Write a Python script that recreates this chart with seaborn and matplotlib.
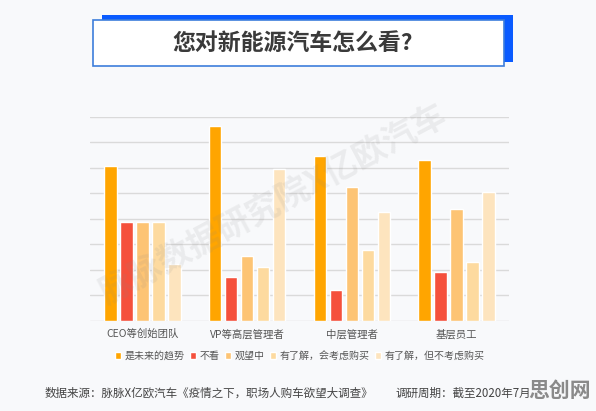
import pandas as pd
import seaborn as sns
import matplotlib.pyplot as plt
from matplotlib.patches import Rectangle

# data (percent of respondents, grid step = 5%)
groups = ['CEO等创始团队', 'VP等高层管理者', '中层管理者', '基层员工']
answers = ['是未来的趋势', '不看', '观望中', '有了解，会考虑购买', '有了解，但不考虑购买']
trend = [30.3, 38.2, 32.3, 31.5]
no_look = [19.3, 8.6, 6.0, 9.5]
waiting = [19.3, 12.7, 26.3, 21.9]
will_buy = [19.3, 10.6, 13.8, 11.5]
wont_buy = [11.2, 29.8, 21.3, 25.2]
colors = ['#FFA500', '#F5503C', '#FDC474', '#FDDA9F', '#FDE4BE']

rows = []
for ans, vals in zip(answers, [trend, no_look, waiting, will_buy, wont_buy]):
    for g, v in zip(groups, vals):
        rows.append({'group': g, 'answer': ans, 'value': v})
df = pd.DataFrame(rows)

sns.set_theme(style='white')
plt.rcParams['font.family'] = ['Noto Sans CJK SC', 'DejaVu Sans']
bg = '#F8F9FB'

fig = plt.figure(figsize=(5.96, 4.11), dpi=100, facecolor=bg)
ax = fig.add_axes([0.151, 0.2197, 0.703, 0.4964])
ax.set_facecolor(bg)

sns.barplot(data=df, x='group', y='value', hue='answer', order=groups,
            hue_order=answers, palette=colors, width=0.765, gap=0.22,
            saturation=1, ax=ax, zorder=2)

ax.set_ylim(0, 40)
ax.set_xlim(-0.5, 3.5)
ax.set_yticks(range(0, 41, 5))
ax.yaxis.grid(True, color='#DADADA', linewidth=1, zorder=0)
ax.set_axisbelow(True)
ax.set_yticklabels([])
ax.tick_params(axis='both', length=0)
ax.tick_params(axis='x', labelsize=7.5, labelcolor='#555555', pad=6)
ax.set_xlabel('')
ax.set_ylabel('')
sns.despine(ax=ax, left=True, bottom=True, top=True, right=True)

sns.move_legend(ax, 'center', bbox_to_anchor=(0.501, -0.173), ncol=5,
                frameon=False, title=None, fontsize=7.2, handlelength=0.6,
                handleheight=0.6, handletextpad=0.4, columnspacing=0.5,
                labelcolor='#555555')

# watermark
fig.text(0.46, 0.50, '脉脉数据研究院X亿欧汽车', fontsize=24, rotation=28,
         color='#888888', alpha=0.12, ha='center', va='center',
         fontweight='bold', zorder=5)

# title box
fig.add_artist(Rectangle((0.1706, 0.8499), 0.6906, 0.1136,
                         transform=fig.transFigure, facecolor='#0A5BFF',
                         edgecolor='none'))
fig.add_artist(Rectangle((0.1565, 0.8394), 0.6891, 0.1119,
                         transform=fig.transFigure, facecolor='white',
                         edgecolor='#3D7EDB', linewidth=1.2))
fig.text(0.4905, 0.8946, '您对新能源汽车怎么看?', fontsize=16.5,
         fontweight='bold', color='#3A3A3A', ha='center', va='center')

# footer
fig.text(45 / 596, 1 - 393 / 411,
         '数据来源：脉脉X亿欧汽车《疫情之下，职场人购车欲望大调查》',
         fontsize=8.3, color='#444444', va='center')
fig.text(396 / 596, 1 - 393 / 411, '调研周期：截至2020年7月',
         fontsize=8.3, color='#444444', va='center')
fig.text(560 / 596, 1 - 390 / 411, '思创网', fontsize=15, fontweight='bold',
         color='#8A8A8A', ha='center', va='center')

fig.savefig('out.png', dpi=100, facecolor=bg)
